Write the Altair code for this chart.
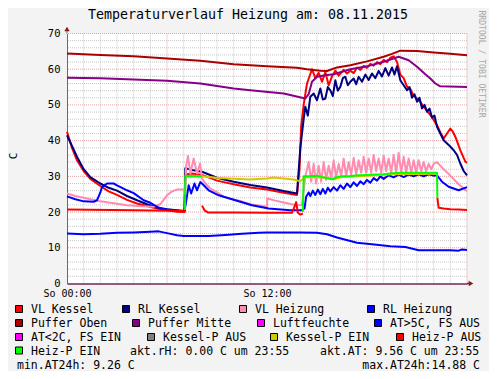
import altair as alt
import pandas as pd

# ---------------- data (hours after midnight, degrees C) ----------------
TITLE = "Temperaturverlauf Heizung am: 08.11.2015"
X_LABELS = {0: "So 00:00", 12: "So 12:00"}

vl_kessel = [(0, 42.5), (0.3, 38), (0.6, 34.5), (1.0, 31.5), (1.4, 29.3), (2.0, 27.3), (2.5, 25.8),
             (3.0, 24.8), (3.6, 23.4), (4.2, 22.4), (4.8, 21.7), (5.4, 21.0), (6.0, 20.5), (6.6, 20.1),
             (7.05, 20.0), (7.1, 30.5), (7.5, 30.8), (8.1, 30.4), (9.0, 28.8), (10.0, 27.8), (11.0, 26.9),
             (12.0, 26.3), (13.0, 25.4), (13.8, 24.8), (13.95, 32), (14.05, 44), (14.2, 50), (14.4, 56),
             (14.7, 60.0), (14.9, 57.5), (15.1, 59.0), (15.3, 56.5), (15.5, 59.2), (15.7, 55.5), (15.9, 58.0),
             (16.1, 59.6), (16.3, 58.2), (16.6, 59.8), (16.8, 58.8), (17.0, 59.6), (17.2, 58.9), (17.4, 60.5),
             (17.6, 59.8), (17.8, 60.9), (18.0, 60.4), (18.2, 61.5), (18.4, 61.0), (18.6, 62.0), (18.8, 61.4),
             (19.0, 62.6), (19.2, 62.0), (19.4, 63.2), (19.6, 63.6), (19.8, 62.0), (20.0, 58.5), (20.2, 57.5),
             (20.4, 55.1), (20.6, 54.5), (20.8, 52.6), (21.0, 51.8), (21.2, 50.8), (21.4, 49.5), (21.6, 48.3),
             (21.8, 47.2), (22.0, 45.8), (22.2, 44.3), (22.4, 42.3), (22.6, 40.6), (22.8, 42.0), (23.0, 43.4),
             (23.15, 42.5), (23.3, 41.1), (23.6, 37.3), (23.9, 34.1), (24.0, 33.8)]

rl_kessel = [(0, 41.5), (0.3, 38.5), (0.6, 35.5), (1.0, 32.0), (1.4, 29.8), (2.0, 28.0), (2.5, 26.8),
             (3.0, 26.0), (3.6, 24.5), (4.2, 23.3), (4.8, 22.2), (5.4, 21.3), (6.0, 20.8), (6.6, 20.5),
             (7.05, 20.3), (7.1, 32.3), (7.5, 31.8), (8.1, 31.3), (9.0, 29.6), (10.0, 28.5), (11.0, 27.6),
             (12.0, 26.9), (13.0, 25.9), (13.8, 25.2), (14.0, 38), (14.2, 46), (14.3, 49.5), (14.45, 47),
             (14.6, 52.3), (14.8, 53.2), (15.0, 51.3), (15.2, 54.6), (15.35, 51.5), (15.5, 51.8), (15.65, 55),
             (15.8, 54.1), (15.95, 52.5), (16.1, 56.9), (16.25, 54), (16.4, 55.1), (16.55, 57.5), (16.7, 57.9),
             (16.85, 55.5), (17.0, 56.5), (17.2, 57.4), (17.35, 55.8), (17.5, 57.9), (17.7, 56.5), (17.9, 58.5),
             (18.1, 57.0), (18.3, 58.8), (18.5, 57.5), (18.7, 59.5), (18.9, 58.0), (19.1, 60.3), (19.3, 58.2),
             (19.5, 60.5), (19.65, 58.5), (19.8, 60.8), (20.0, 56.9), (20.2, 55.5), (20.4, 54.1), (20.55, 55.0),
             (20.7, 52.0), (20.85, 53.0), (21.0, 50.9), (21.15, 52.0), (21.3, 49.0), (21.45, 50.0), (21.6, 48.1),
             (21.75, 49.0), (21.9, 46.5), (22.05, 47.0), (22.2, 43.9), (22.4, 42.0), (22.6, 40.1), (22.9, 38.8),
             (23.2, 37.3), (23.4, 36.0), (23.6, 33.6), (23.8, 31.5), (24.0, 30.3)]

vl_heizung = [(0, 25.2), (0.5, 24.5), (1.2, 23.8), (2.0, 23.0), (2.6, 22.6), (3.6, 21.9), (4.5, 21.6),
              (5.2, 21.5), (5.6, 22.2), (6.0, 24.7), (6.3, 25.8), (6.6, 26.3), (7.0, 26.3), (7.08, 25),
              (7.15, 33), (7.26, 35.7), (7.4, 30.8), (7.6, 35.0), (7.8, 30.8), (7.98, 33.6), (8.1, 29.4),
              (8.3, 28.0), (8.6, 26.6), (9.0, 25.5), (9.4, 24.3), (10.0, 23.5), (10.4, 23.1), (11.0, 22.2),
              (12.0, 21.5), (12.02, 23.8), (12.5, 23.2), (13.0, 22.7), (13.78, 21.9), (14.1, 22.0),
              (14.3, 30), (14.5, 34.1), (14.65, 28.5), (14.8, 33.5), (14.95, 28), (15.1, 33), (15.25, 28.5),
              (15.4, 34), (15.55, 29), (15.7, 33), (15.85, 29.5), (16.0, 34.5), (16.15, 29.5), (16.3, 33.5),
              (16.45, 30), (16.6, 35), (16.75, 30), (16.9, 34), (17.05, 30.5), (17.2, 35.2), (17.35, 30.5),
              (17.5, 34.5), (17.65, 31), (17.8, 35.5), (17.95, 31), (18.1, 35), (18.25, 31), (18.4, 36),
              (18.55, 31.5), (18.7, 35), (18.85, 31), (19.0, 35.8), (19.15, 31.5), (19.3, 35), (19.45, 31),
              (19.6, 36), (19.75, 31), (19.9, 36.6), (20.05, 31), (20.2, 35.5), (20.35, 31), (20.5, 35),
              (20.65, 31), (20.8, 34.5), (20.95, 31), (21.1, 34.5), (21.25, 31.5), (21.4, 34), (21.55, 31.5),
              (21.7, 33.5), (21.85, 32), (22.0, 33.5), (22.2, 34.0), (22.6, 32.0), (23.0, 30.2),
              (23.5, 27.8), (24.0, 25.8)]

rl_heizung = [(0, 24.4), (0.5, 23.6), (1.0, 23.0), (1.6, 22.9), (1.8, 23.3), (2.0, 25.5), (2.1, 27.0),
              (2.4, 28.0), (2.8, 28.0), (3.0, 27.5), (3.6, 26.1), (4.0, 25.3), (4.6, 23.3), (5.0, 22.6),
              (5.6, 21.0), (6.2, 20.6), (6.8, 20.3), (7.05, 20.3), (7.15, 23), (7.3, 27.5), (7.45, 25.2),
              (7.65, 28), (7.8, 26.1), (8.0, 28.4), (8.1, 28.0), (8.5, 26.1), (9.1, 24.7), (10.1, 23.3),
              (11.1, 21.9), (12.1, 21.0), (13.4, 20.5), (14.1, 20.5), (14.25, 21), (14.35, 24.3), (14.5, 25.5),
              (14.6, 24.5), (14.75, 26), (14.9, 24.8), (15.05, 26.3), (15.2, 25), (15.35, 26.5), (15.5, 25.2),
              (15.65, 26.8), (15.8, 25.8), (16.0, 27), (16.2, 26), (16.4, 27.5), (16.6, 26.5), (16.8, 28),
              (17.0, 27), (17.2, 28.3), (17.4, 27.3), (17.6, 28.6), (17.8, 27.8), (18.0, 29), (18.2, 28.2),
              (18.4, 29.5), (18.6, 28.8), (18.8, 30), (19.0, 29.3), (19.3, 30.3), (19.6, 29.7), (19.9, 30.5),
              (20.2, 29.8), (20.5, 30.5), (20.8, 30), (21.1, 30.6), (21.4, 30), (21.7, 30.6), (22.0, 30.2),
              (22.2, 30.3), (22.5, 28.5), (22.9, 27.1), (23.5, 26.1), (24.0, 27.0)]

puffer_oben = [(0, 64.4), (2, 64.0), (4, 63.6), (6, 63.0), (8, 62.4), (10, 61.4), (12, 60.8), (13.8, 60.4),
               (14.4, 60.0), (15.2, 59.6), (15.6, 59.5), (16.2, 60.5), (17, 61.1), (18, 62.2), (19, 63.5),
               (19.5, 64.3), (20, 65.2), (21, 65.1), (22, 64.7), (23, 64.3), (24, 63.9)]

puffer_mitte = [(0, 57.6), (2, 57.5), (4, 57.1), (6, 56.8), (8, 56.0), (10, 54.6), (11, 54.1), (13, 53.2),
                (14.3, 51.8), (14.5, 53.0), (14.7, 56.5), (15.0, 57.9), (15.5, 58.3), (16, 58.6), (17, 60.0),
                (18, 60.8), (19, 62.1), (19.9, 63.5), (20.5, 62.5), (21, 60.7), (21.5, 58.6), (21.8, 57.4),
                (22.1, 56.0), (22.4, 55.2), (24, 55.0)]

aussen_temp = [(0, 14.0), (1, 13.8), (2, 13.9), (3, 14.2), (4, 14.3), (5, 14.5), (5.5, 14.6), (6, 14.1),
               (6.6, 13.5), (7, 13.3), (8.5, 13.3), (9.5, 13.6), (10.5, 13.9), (11.5, 14.2), (12, 14.3),
               (13, 14.3), (14, 14.3), (15, 14.2), (15.6, 13.8), (16.2, 12.9), (17.4, 11.4), (18.3, 11.0),
               (19.4, 10.4), (20.3, 10.2), (21.1, 9.3), (22, 9.3), (23, 9.3), (23.5, 9.2), (23.7, 9.5),
               (24, 9.4)]

kessel_p_ein = [(7.1, 29.8), (8.08, 30.0), (9, 29.6), (10, 29.3), (11, 29.1), (12, 29.4), (12.4, 29.7),
                (13, 29.4), (13.6, 29.1), (14.0, 28.6), (14.2, 29.5), (14.4, 29.8), (15.5, 29.7), (16, 29.2),
                (16.5, 29.8), (18, 30.2), (19.5, 30.6), (22.2, 30.7)]

heiz_p_aus = [
    [(0, 20.7), (4, 20.5), (7.08, 20.3)],
    [(8.1, 21.8), (8.25, 20.5), (8.45, 19.9), (10, 19.9), (12, 19.8), (13.5, 19.8), (13.65, 21.5),
     (13.75, 22.8), (13.85, 19.8), (14.0, 19.3), (14.15, 19.6)],
    [(22.22, 24.0), (22.3, 21.2), (22.6, 21.0), (23, 20.8), (23.5, 20.7), (24, 20.6)],
]

heiz_p_ein = [
    [(7.08, 20.6), (7.1, 30.2), (7.5, 30.1), (8.08, 30.0)],
    [(14.15, 20.0), (14.2, 30.0), (14.5, 30.0), (15.0, 30.2), (15.4, 29.7), (15.9, 29.2), (16.2, 29.8),
     (16.5, 30.0), (17.0, 30.1), (17.5, 30.3), (18, 30.4), (18.5, 30.5), (19, 30.6), (19.5, 30.9),
     (20, 31.0), (21, 31.0), (22.2, 31.0), (22.22, 24.0)],
]

legend_labels = ["VL Kessel", "RL Kessel", "VL Heizung", "RL Heizung",
                 "Puffer Oben", "Puffer Mitte", "Luftfeuchte", "AT>5C, FS AUS",
                 "AT<2C, FS EIN", "Kessel-P AUS", "Kessel-P EIN", "Heiz-P AUS",
                 "Heiz-P EIN"]
legend_colors = ["#FF0000", "#000080", "#FF8CB0", "#0000FF",
                 "#AA0000", "#880088", "#FF00FF", "#0000FF",
                 "#FF00FF", "#808080", "#CCCC00", "#FF0000",
                 "#00FF00"]
stats_left = ["akt.rH: 0.00 C um 23:55", "akt.AT: 9.56 C um 23:55", "min.AT24h: 9.26 C"]
stats_right = ["max.AT24h:14.88 C"]

hour_ticks = list(range(0, 25))
value_ticks = list(range(0, 71, 2))

series_data = [
    ("VL Kessel", [vl_kessel]), ("RL Kessel", [rl_kessel]), ("VL Heizung", [vl_heizung]),
    ("RL Heizung", [rl_heizung]), ("Puffer Oben", [puffer_oben]), ("Puffer Mitte", [puffer_mitte]),
    ("AT>5C, FS AUS", [aussen_temp]), ("Kessel-P EIN", [kessel_p_ein]),
    ("Heiz-P AUS", heiz_p_aus), ("Heiz-P EIN", heiz_p_ein),
]

# ---------------- layout / style ----------------
FONT = "DejaVu Sans Mono"
OX, OY = 67, 33.5          # plot origin on the page
W, H = 400, 250
XMAX, YMAX = 24, 70
MAJ = "#E4A0A0"
MIN = "#C8C8C8"
X_AXIS_COL = "#6E2A55"
Y_AXIS_COL = "#806070"

legend_text_x = [31, 138, 255, 383, 31, 148, 273, 390, 31, 163, 286, 412, 31]
legend_rows = [0, 0, 0, 0, 1, 1, 1, 1, 2, 2, 2, 2, 3]
row_base = [313, 327, 341, 354.5, 368.5]
stats_left_pos = [(130, 3), (320, 3), (17, 4)]
stats_right_pos = [(480, 4)]

color_of = dict(zip(legend_labels, legend_colors))


def hx(px):
    """page pixel x -> hour on the shared x scale"""
    return (px - OX) * XMAX / W


def vy(py):
    """page pixel y -> value on the shared y scale"""
    return (OY + H - py) * YMAX / H


xs = alt.Scale(domain=[0, XMAX], nice=False, zero=False)
ys = alt.Scale(domain=[0, YMAX], nice=False, zero=True)

x_axis = alt.Axis(
    values=hour_ticks,
    labelExpr="datum.value == 0 ? '%s' : (datum.value == 12 ? '%s' : '')" % (X_LABELS[0], X_LABELS[12]),
    grid=False, ticks=False, domain=True, domainColor=X_AXIS_COL, domainWidth=1.5,
    labelFont=FONT, labelFontSize=10, labelColor="black", labelPadding=5, labelAngle=0,
    labelFlush=False, labelOverlap=False, title=None)
y_axis = alt.Axis(
    values=value_ticks,
    labelExpr="datum.value % 10 === 0 ? datum.value : ''",
    grid=False, ticks=False, domain=True, domainColor=Y_AXIS_COL, domainWidth=1,
    labelFont=FONT, labelFontSize=10.5, labelColor="black", labelPadding=7,
    labelOverlap=False, labelFlush=False, title=None)


def X(field="h:Q"):
    return alt.X(field, scale=xs, axis=x_axis)


def Y(field="v:Q"):
    return alt.Y(field, scale=ys, axis=y_axis)


layers = []

# grid (minor then major), drawn from the tick lists
gx = pd.DataFrame({"h": hour_ticks, "major": [h % 6 == 0 for h in hour_ticks]})
gy = pd.DataFrame({"v": value_ticks, "major": [v % 10 == 0 for v in value_ticks]})
layers.append(alt.Chart(gx[~gx.major]).mark_rule(color=MIN, strokeDash=[1, 1], strokeWidth=1).encode(x=X()))
layers.append(alt.Chart(gy[~gy.major]).mark_rule(color=MIN, strokeDash=[1, 1], strokeWidth=1).encode(y=Y()))
layers.append(alt.Chart(gx[gx.major & (gx.h > 0)]).mark_rule(color=MAJ, strokeDash=[1, 1], strokeWidth=1)
              .encode(x=X()))
layers.append(alt.Chart(gy[gy.major & (gy.v > 0)]).mark_rule(color=MAJ, strokeDash=[1, 1], strokeWidth=1)
              .encode(y=Y()))

# axis extensions up to the arrow heads
ext_y = pd.DataFrame({"h": [0.0], "v": [YMAX], "v2": [vy(30)]})
ext_x = pd.DataFrame({"h": [XMAX], "h2": [hx(469)], "v": [0.0]})
layers.append(alt.Chart(ext_y).mark_rule(color=Y_AXIS_COL, strokeWidth=1).encode(x=X(), y=Y(), y2="v2:Q"))
layers.append(alt.Chart(ext_x).mark_rule(color=X_AXIS_COL, strokeWidth=1.5).encode(x=X(), x2="h2:Q", y=Y()))

for name, segs in series_data:
    rows = []
    for si, seg in enumerate(segs):
        for h, v in seg:
            rows.append({"h": h, "v": v, "seg": si})
    d = pd.DataFrame(rows)
    layers.append(alt.Chart(d).mark_line(color=color_of[name], strokeWidth=2, strokeJoin="round").encode(
        x=X(), y=Y(), detail="seg:N", order="h:Q"))

# axis arrows
arrow_up = pd.DataFrame({"h": [hx(67)], "v": [vy(29)]})
arrow_right = pd.DataFrame({"h": [hx(471)], "v": [vy(283.5)]})
for dfa, shp in ((arrow_up, "triangle-up"), (arrow_right, "triangle-right")):
    layers.append(alt.Chart(dfa).mark_point(shape=shp, filled=True, size=28, color="#8A1A1A", opacity=1)
                  .encode(x=X(), y=Y()))


def text_layer(texts, xs_px, ys_px, **mark):
    d = pd.DataFrame({"t": texts, "h": [hx(x) for x in xs_px], "v": [vy(y) for y in ys_px]})
    return alt.Chart(d).mark_text(font=FONT, **mark).encode(x=X(), y=Y(), text="t:N")


layers.append(text_layer([TITLE], [248], [18.5], fontSize=13.3, align="center", baseline="alphabetic",
                         color="black"))
layers.append(text_layer(["C"], [16.5], [156], fontSize=11, align="center", baseline="alphabetic", angle=270,
                         color="black"))
layers.append(text_layer(["RRDTOOL / TOBI OETIKER"], [481], [64], fontSize=8.1, align="center",
                         baseline="middle", angle=90, color="#A8A8A8"))

# legend boxes and labels
box = pd.DataFrame({"h": [hx(x - 12) for x in legend_text_x],
                    "v": [vy(row_base[r] - 4) for r in legend_rows],
                    "col": legend_colors})
layers.append(alt.Chart(box).mark_square(size=49, filled=True, stroke="#000000", strokeWidth=1, opacity=1)
              .encode(x=X(), y=Y(), fill=alt.Fill("col:N", scale=None)))
layers.append(text_layer(legend_labels, legend_text_x, [row_base[r] for r in legend_rows], fontSize=11.5,
                         align="left", baseline="alphabetic", color="black"))
layers.append(text_layer(stats_left, [p[0] for p in stats_left_pos], [row_base[p[1]] for p in stats_left_pos],
                         fontSize=11.5, align="left", baseline="alphabetic", color="black"))
layers.append(text_layer(stats_right, [p[0] for p in stats_right_pos], [row_base[p[1]] for p in stats_right_pos],
                         fontSize=11.5, align="right", baseline="alphabetic", color="black"))

TOTAL_W, TOTAL_H = 481, 363
chart = alt.layer(*layers).properties(
    width=W, height=H,
    autosize=alt.AutoSizeParams(type="none"),
    padding={"left": OX - 8, "top": OY - 8, "right": TOTAL_W - W - (OX - 8),
             "bottom": TOTAL_H - H - (OY - 8)},
    background="#F3F3F3",
).configure_view(fill="white", stroke=None)

chart.save("out.html", embed_options={"renderer": "svg", "actions": False})
